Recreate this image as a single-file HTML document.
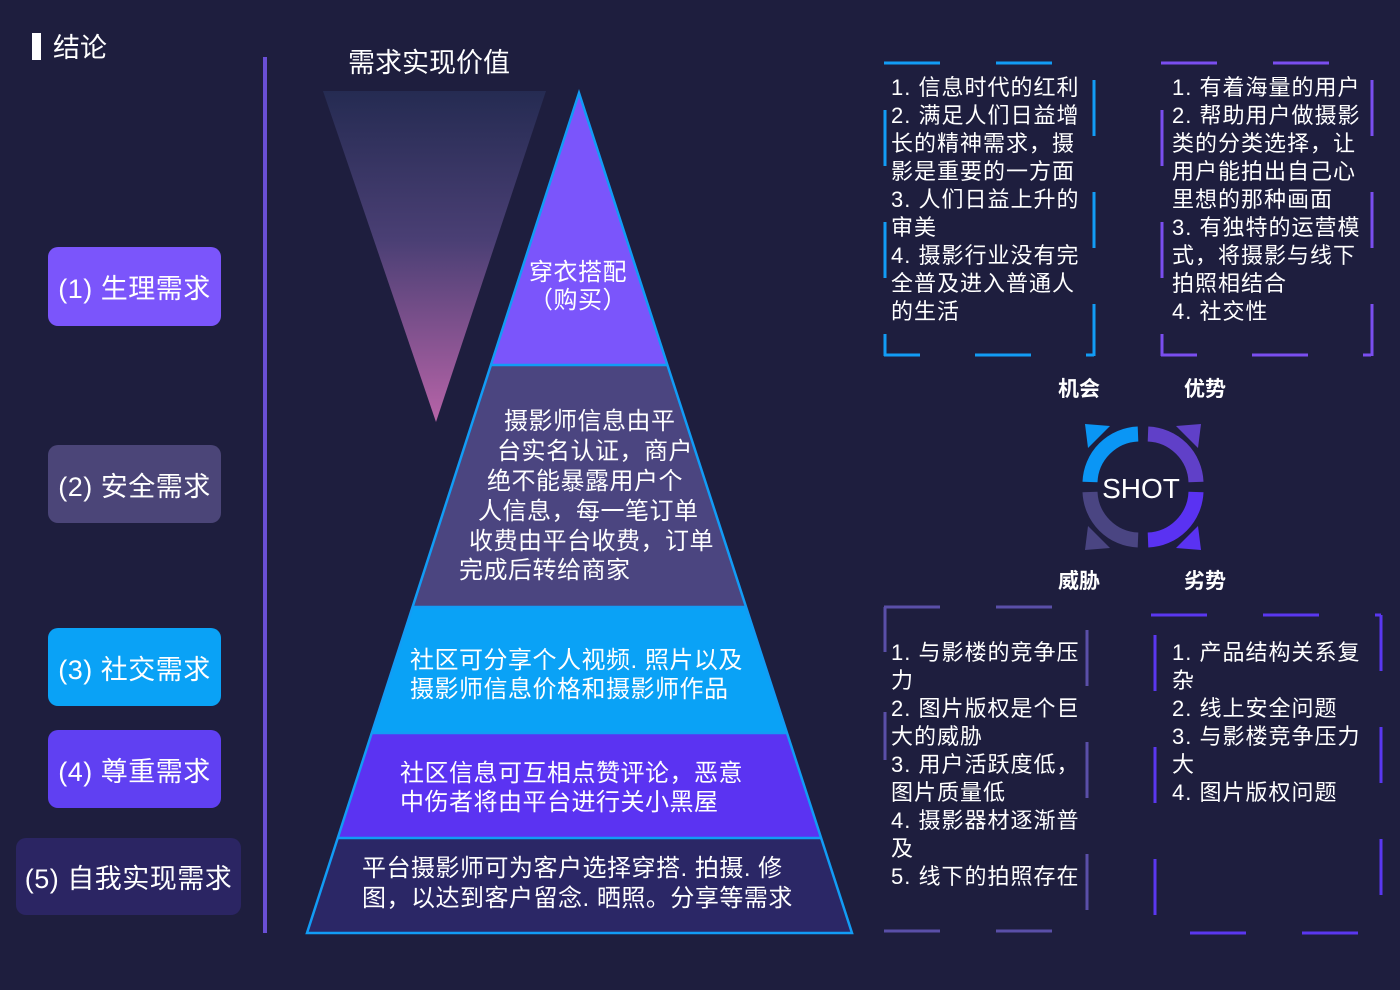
<!DOCTYPE html>
<html><head><meta charset="utf-8"><style>
body{margin:0;width:1400px;height:990px;background:#1e1e3e;overflow:hidden;font-family:"Liberation Sans","Noto Sans CJK SC",sans-serif;color:#fff}
svg{position:absolute;left:0;top:0}
.t{position:absolute;font-size:22px;line-height:28px;color:#fff;white-space:nowrap;letter-spacing:1px}
.btn{position:absolute;border-radius:10px;display:flex;align-items:center;justify-content:center;font-size:27px;color:#fff;letter-spacing:0.5px}
</style></head><body>
<svg width="1400" height="990" font-family="Liberation Sans, Noto Sans CJK SC, sans-serif">
<defs>
<linearGradient id="g" x1="0" y1="0" x2="0" y2="1"><stop offset="0" stop-color="#252b52"/><stop offset="0.45" stop-color="#4a3f74"/><stop offset="1" stop-color="#b764a8"/></linearGradient>
<clipPath id="py"><polygon points="579,93 852,933 307,933"/></clipPath>
</defs>
<rect x="32" y="33" width="9" height="27" fill="#fff"/>
<text x="53" y="57" font-size="27" fill="#fff">结论</text>
<rect x="263" y="57" width="4" height="876" fill="#6a4fd6"/>
<text x="348" y="72" font-size="27" fill="#fff">需求实现价值</text>
<polygon points="323,91 546,91 436,422" fill="url(#g)"/>
<g clip-path="url(#py)">
<rect x="300" y="90" width="560" height="275" fill="#7b55fb"/>
<rect x="300" y="365" width="560" height="242" fill="#4b4580"/>
<rect x="300" y="607" width="560" height="126" fill="#0aa2f6"/>
<rect x="300" y="733" width="560" height="105" fill="#5b33f2"/>
<rect x="300" y="838" width="560" height="100" fill="#2b2766"/>
</g>
<g stroke="#129cf5" stroke-width="2.5" fill="none">
<polygon points="579,93 852,933 307,933"/>
<line x1="491" y1="365" x2="667" y2="365"/><line x1="412" y1="607" x2="746" y2="607"/>
<line x1="372" y1="733" x2="787" y2="733"/><line x1="338" y1="838" x2="821" y2="838"/>
</g>
<g font-size="24" fill="#fff" letter-spacing="0.5">
<text x="578" y="280" text-anchor="middle">穿衣搭配</text>
<text x="578" y="308" text-anchor="middle">（购买）</text>
<text x="504" y="429">摄影师信息由平</text>
<text x="497" y="459">台实名认证，商户</text>
<text x="487" y="489">绝不能暴露用户个</text>
<text x="478" y="519">人信息，每一笔订单</text>
<text x="469" y="549">收费由平台收费，订单</text>
<text x="459" y="578">完成后转给商家</text>
<text x="410" y="668">社区可分享个人视频. 照片以及</text>
<text x="410" y="697">摄影师信息价格和摄影师作品</text>
<text x="400" y="781">社区信息可互相点赞评论，恶意</text>
<text x="400" y="810">中伤者将由平台进行关小黑屋</text>
<text x="362" y="876">平台摄影师可为客户选择穿搭. 拍摄. 修</text>
<text x="362" y="906">图，以达到客户留念. 晒照。分享等需求</text>
</g>
<g fill="none" stroke-width="3" stroke-dasharray="56 56">
<g stroke="#129cf5">
<line x1="884" y1="63" x2="1094" y2="63"/>
<line x1="1094" y1="80" x2="1094" y2="356"/>
<line x1="885" y1="110" x2="885" y2="356"/>
<line x1="884" y1="355" x2="1094" y2="355" stroke-dasharray="36 55 56 55 8 100"/>
</g>
<g stroke="#7a4ef0">
<line x1="1161" y1="63" x2="1372" y2="63"/>
<line x1="1372" y1="80" x2="1372" y2="356"/>
<line x1="1162" y1="110" x2="1162" y2="356"/>
<line x1="1161" y1="355" x2="1372" y2="355" stroke-dasharray="36 55 56 55 8 100"/>
</g>
<g stroke="#5a4fa8">
<line x1="884" y1="607" x2="1052" y2="607"/>
<line x1="885" y1="607" x2="885" y2="760" stroke-dasharray="45 60 56 56 56"/>
<line x1="1087" y1="630" x2="1087" y2="912"/>
<line x1="884" y1="931" x2="1052" y2="931"/>
</g>
<g stroke="#5a37f0">
<line x1="1151" y1="615" x2="1381" y2="615"/>
<line x1="1381" y1="615" x2="1381" y2="895" stroke-dasharray="56 56"/>
<line x1="1155" y1="635" x2="1155" y2="918"/>
<line x1="1190" y1="933" x2="1370" y2="933"/>
</g>
</g>
<g fill="none" stroke-width="15">
<path d="M1090,482 A50,50 0 0 1 1138,434" stroke="#0a96f5"/>
<path d="M1148,434 A50,50 0 0 1 1196,482" stroke="#6040c8"/>
<path d="M1090,492 A50,50 0 0 0 1138,540" stroke="#4a4582"/>
<path d="M1148,540 A50,50 0 0 0 1196,492" stroke="#5a32f2"/>
</g>
<polygon points="1085,424 1110,426 1088,448" fill="#0a96f5"/>
<polygon points="1201,424 1176,426 1198,448" fill="#6040c8"/>
<polygon points="1085,550 1110,548 1088,526" fill="#4a4582"/>
<polygon points="1201,550 1176,548 1198,526" fill="#5a32f2"/>
<text x="1141" y="498" text-anchor="middle" font-size="28" fill="#fff">SHOT</text>
<g font-size="21" font-weight="bold" fill="#fff">
<text x="1058" y="396">机会</text><text x="1184" y="396">优势</text>
<text x="1058" y="588">威胁</text><text x="1184" y="588">劣势</text>
</g>
</svg>
<div class="btn" style="left:48px;top:247px;width:173px;height:79px;background:#7b55fb">(1) 生理需求</div>
<div class="btn" style="left:48px;top:445px;width:173px;height:78px;background:#4b4578">(2) 安全需求</div>
<div class="btn" style="left:48px;top:628px;width:173px;height:78px;background:#0aa2f6">(3) 社交需求</div>
<div class="btn" style="left:48px;top:730px;width:173px;height:78px;background:#6040f2">(4) 尊重需求</div>
<div class="btn" style="left:16px;top:838px;width:225px;height:77px;background:#2b2563">(5) 自我实现需求</div>
<div class="t" style="left:891px;top:74px">1. 信息时代的红利<br>2. 满足人们日益增<br>长的精神需求，摄<br>影是重要的一方面<br>3. 人们日益上升的<br>审美<br>4. 摄影行业没有完<br>全普及进入普通人<br>的生活</div>
<div class="t" style="left:1172px;top:74px">1. 有着海量的用户<br>2. 帮助用户做摄影<br>类的分类选择，让<br>用户能拍出自己心<br>里想的那种画面<br>3. 有独特的运营模<br>式，将摄影与线下<br>拍照相结合<br>4. 社交性</div>
<div class="t" style="left:891px;top:639px">1. 与影楼的竞争压<br>力<br>2. 图片版权是个巨<br>大的威胁<br>3. 用户活跃度低，<br>图片质量低<br>4. 摄影器材逐渐普<br>及<br>5. 线下的拍照存在</div>
<div class="t" style="left:1172px;top:639px">1. 产品结构关系复<br>杂<br>2. 线上安全问题<br>3. 与影楼竞争压力<br>大<br>4. 图片版权问题</div>
</body></html>
